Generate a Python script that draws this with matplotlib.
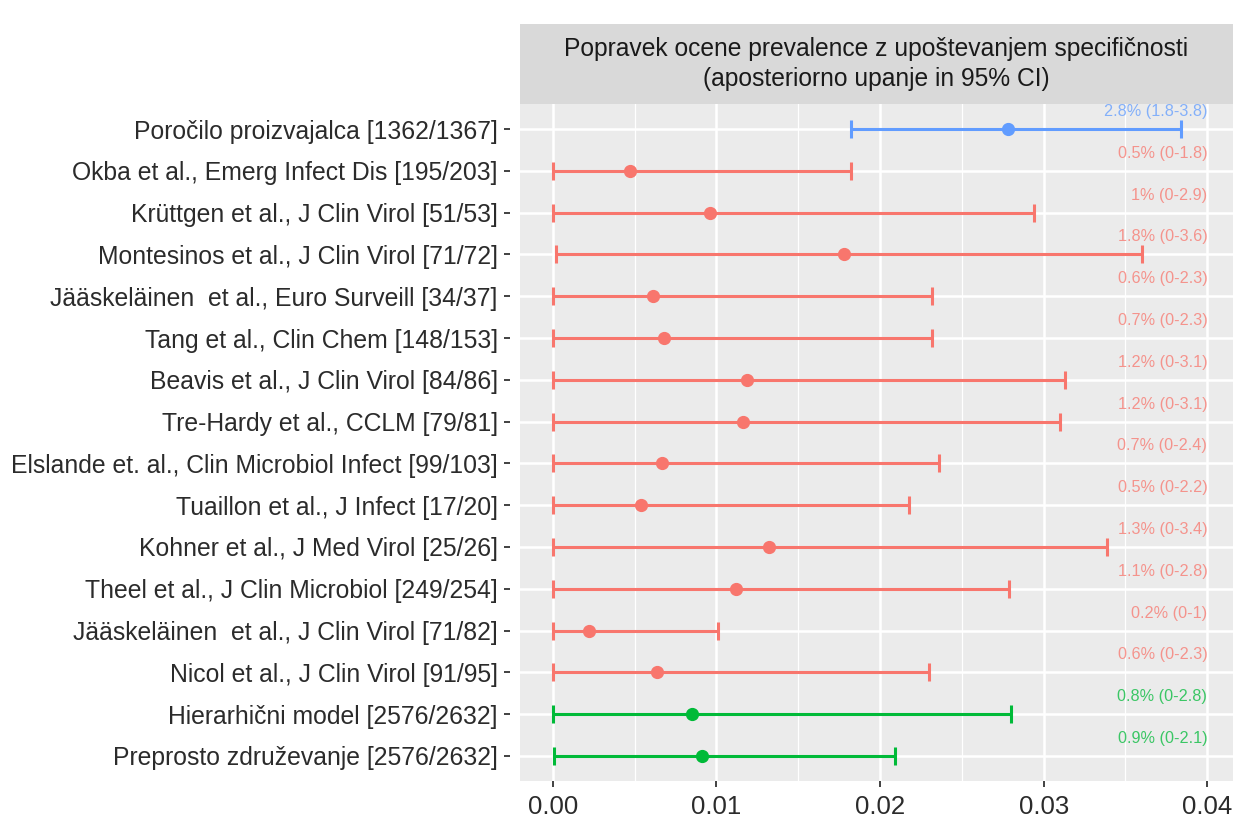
import numpy as np
import matplotlib.pyplot as plt
from matplotlib.patches import Rectangle

plt.rcParams['font.family'] = ['Liberation Sans', 'DejaVu Sans']

# 数据
studies = [
    'Poročilo proizvajalca [1362/1367]',
    'Okba et al., Emerg Infect Dis [195/203]',
    'Krüttgen et al., J Clin Virol [51/53]',
    'Montesinos et al., J Clin Virol [71/72]',
    'Jääskeläinen  et al., Euro Surveill [34/37]',
    'Tang et al., Clin Chem [148/153]',
    'Beavis et al., J Clin Virol [84/86]',
    'Tre-Hardy et al., CCLM [79/81]',
    'Elslande et. al., Clin Microbiol Infect [99/103]',
    'Tuaillon et al., J Infect [17/20]',
    'Kohner et al., J Med Virol [25/26]',
    'Theel et al., J Clin Microbiol [249/254]',
    'Jääskeläinen  et al., J Clin Virol [71/82]',
    'Nicol et al., J Clin Virol [91/95]',
    'Hierarhični model [2576/2632]',
    'Preprosto združevanje [2576/2632]',
]
means = [0.0278, 0.0047, 0.0096, 0.0178, 0.0061, 0.0068, 0.0119, 0.0116,
         0.0067, 0.0054, 0.0132, 0.0112, 0.0022, 0.0064, 0.0085, 0.0091]
lower = [0.0182, 0.0, 0.0, 0.0002, 0.0, 0.0, 0.0, 0.0,
         0.0, 0.0, 0.0, 0.0, 0.0, 0.0, 0.0, 0.0001]
upper = [0.0384, 0.0182, 0.0294, 0.0360, 0.0232, 0.0232, 0.0313, 0.0310,
         0.0236, 0.0218, 0.0339, 0.0279, 0.0101, 0.0230, 0.0280, 0.0209]
labels = ['2.8% (1.8-3.8)', '0.5% (0-1.8)', '1% (0-2.9)', '1.8% (0-3.6)',
          '0.6% (0-2.3)', '0.7% (0-2.3)', '1.2% (0-3.1)', '1.2% (0-3.1)',
          '0.7% (0-2.4)', '0.5% (0-2.2)', '1.3% (0-3.4)', '1.1% (0-2.8)',
          '0.2% (0-1)', '0.6% (0-2.3)', '0.8% (0-2.8)', '0.9% (0-2.1)']
groups = ['proizvajalec'] + ['studija'] * 13 + ['zdruzeno'] * 2
x_ticks = [0.00, 0.01, 0.02, 0.03, 0.04]
title = 'Popravek ocene prevalence z upoštevanjem specifičnosti\n(aposteriorno upanje in 95% CI)'

colors = {'proizvajalec': '#619CFF', 'studija': '#F8766D', 'zdruzeno': '#00BA38'}

W, H = 1235, 819
L, R, T, B = 520, 1233, 104, 781
fig = plt.figure(figsize=(W / 100, H / 100), dpi=100)
ax = fig.add_axes([L / W, 1 - B / H, (R - L) / W, (B - T) / H])
ax.set_facecolor('#EBEBEB')

# 网格线（ggplot 风格）
for v in np.arange(0.005, 0.045, 0.01):
    ax.axvline(v, color='white', lw=0.9, zorder=0)
for v in x_ticks:
    ax.axvline(v, color='white', lw=1.8, zorder=0)
y = np.arange(len(studies))
for yy in y:
    ax.axhline(yy, color='white', lw=1.8, zorder=0)

for i in range(len(studies)):
    c = colors[groups[i]]
    ax.errorbar(means[i], y[i], xerr=[[means[i] - lower[i]], [upper[i] - means[i]]],
                fmt='o', color=c, ms=8.5, lw=2.2, capsize=6.5, capthick=2.2, zorder=3)
    ax.text(0.04, y[i] - 0.42, labels[i], ha='right', va='center',
            color=c, alpha=0.75, fontsize=11.7, zorder=4)

ax.set_xlim(-0.002, 0.04157)
ax.set_ylim(len(studies) - 0.4, -0.6)
ax.set_xticks(x_ticks)
ax.set_xticklabels(['0.00', '0.01', '0.02', '0.03', '0.04'])
ax.set_yticks(y)
ax.set_yticklabels(studies)
ax.tick_params(axis='both', colors='#333333', labelcolor='#2b2b2b',
               length=4, width=1.3)
ax.tick_params(axis='y', labelsize=17.8, pad=5)
ax.tick_params(axis='x', labelsize=18.5, pad=6)
for s in ax.spines.values():
    s.set_visible(False)
# 左侧刻度与面板之间留一点空隙
ax.spines['left'].set_position(('outward', 7))

# 分面标题条
fig.patches.append(Rectangle((L / W, 1 - T / H), (R - L) / W, 80 / H,
                             transform=fig.transFigure, facecolor='#D9D9D9',
                             edgecolor='none'))
fig.text((L + R) / 2 / W, 1 - 64 / H, title, ha='center', va='center',
         fontsize=17.7, color='#1a1a1a', linespacing=1.3)

fig.savefig('out.png', dpi=100)
